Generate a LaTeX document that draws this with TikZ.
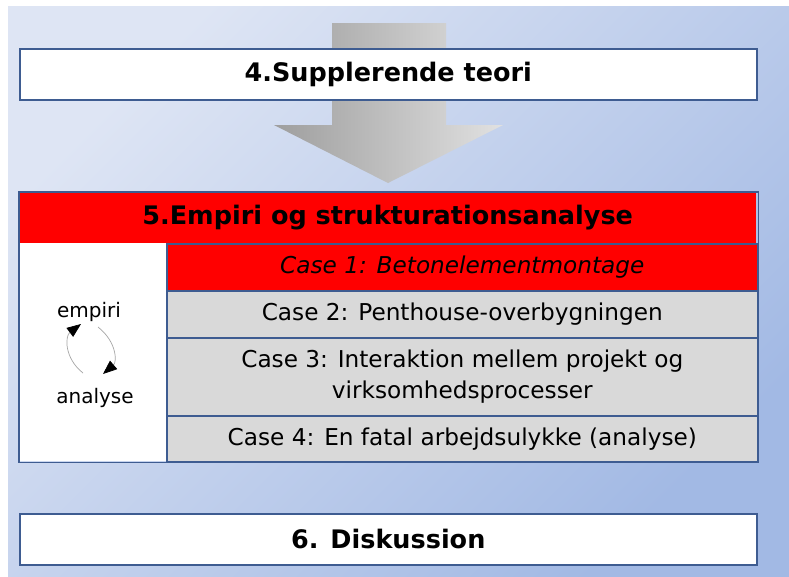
\documentclass[tikz,border=0pt]{standalone}
\usepackage{fontspec}
\setmainfont{DejaVu Sans}
\usetikzlibrary{arrows.meta}
\definecolor{bglight}{RGB}{222,229,244}
\definecolor{bgblue}{RGB}{162,185,228}
\definecolor{frame}{RGB}{62,92,145}
\definecolor{casegray}{RGB}{217,217,217}
\definecolor{arrowdark}{RGB}{158,158,158}
\definecolor{arrowlight}{RGB}{225,225,225}
\begin{document}
\begin{tikzpicture}[x=1pt,y=-1pt,
  titlebox/.style={draw=frame, line width=1.6pt, fill=white, anchor=north west,
    minimum width=737pt, minimum height=51pt, inner sep=0pt,
    font=\bfseries\fontsize{25.5}{30}\selectfont},
  caserow/.style={draw=frame, line width=1.6pt, fill=casegray, anchor=north west,
    minimum width=591pt, inner sep=0pt, align=center,
    font=\fontsize{23.2}{31}\selectfont},
  cyclabel/.style={inner sep=0pt, font=\fontsize{20}{24}\selectfont},
  cycarrow/.style={draw=gray!70, line width=0.7pt,
    -{Triangle[length=14pt,width=11pt,color=black]}}
]
\useasboundingbox (0,0) rectangle (789,576);
\fill[white] (0,0) rectangle (789,576);
\shade[top color=bglight, bottom color=bgblue, shading angle=45] (8,6) rectangle (789,576);

% big arrow
\shade[left color=arrowdark, right color=arrowlight]
  (332,23) -- (446,23) -- (446,125) -- (503,125) -- (388,183) -- (274,125) -- (332,125) -- cycle;

% box 4
\node[titlebox] (t4) at (19,48) {4.Supplerende teori};

% section 5
\node[fill=red, anchor=north west, minimum width=737pt, minimum height=51pt, inner sep=0pt,
  font=\bfseries\fontsize{25.5}{30}\selectfont] (t5) at (19,192) {5.Empiri og strukturationsanalyse};
\node[fill=white, anchor=north west, minimum width=147pt, minimum height=218pt, inner sep=0pt] (left) at (19,243) {};
\node[caserow, fill=red, minimum height=47pt, font=\itshape\fontsize{23.2}{31}\selectfont] (c1) at (166,243) {Case 1: Betonelementmontage};
\node[caserow, minimum height=47pt] (c2) at (166,290) {Case 2: Penthouse-overbygningen};
\node[caserow, minimum height=78pt] (c3) at (166,337) {Case 3: Interaktion mellem projekt og\\virksomhedsprocesser};
\node[caserow, minimum height=46pt] (c4) at (166,415) {Case 4: En fatal arbejdsulykke (analyse)};
\draw[frame, line width=1.6pt] (t5.north west) rectangle (c4.south east);

% cycle
\node[cyclabel] (em) at (89,312) {empiri};
\node[cyclabel] (an) at (95,398) {analyse};
\coordinate (la) at (83,373);
\coordinate (lb) at (81,324);
\coordinate (ra) at (98,327);
\coordinate (rb) at (103,374);
\draw[cycarrow] (la) .. controls (64,358) and (65,336) .. (lb);
\draw[cycarrow] (ra) .. controls (117,342) and (117,362) .. (rb);

% box 6
\node[titlebox] (t6) at (19,513) {6. Diskussion};
\end{tikzpicture}
\end{document}
